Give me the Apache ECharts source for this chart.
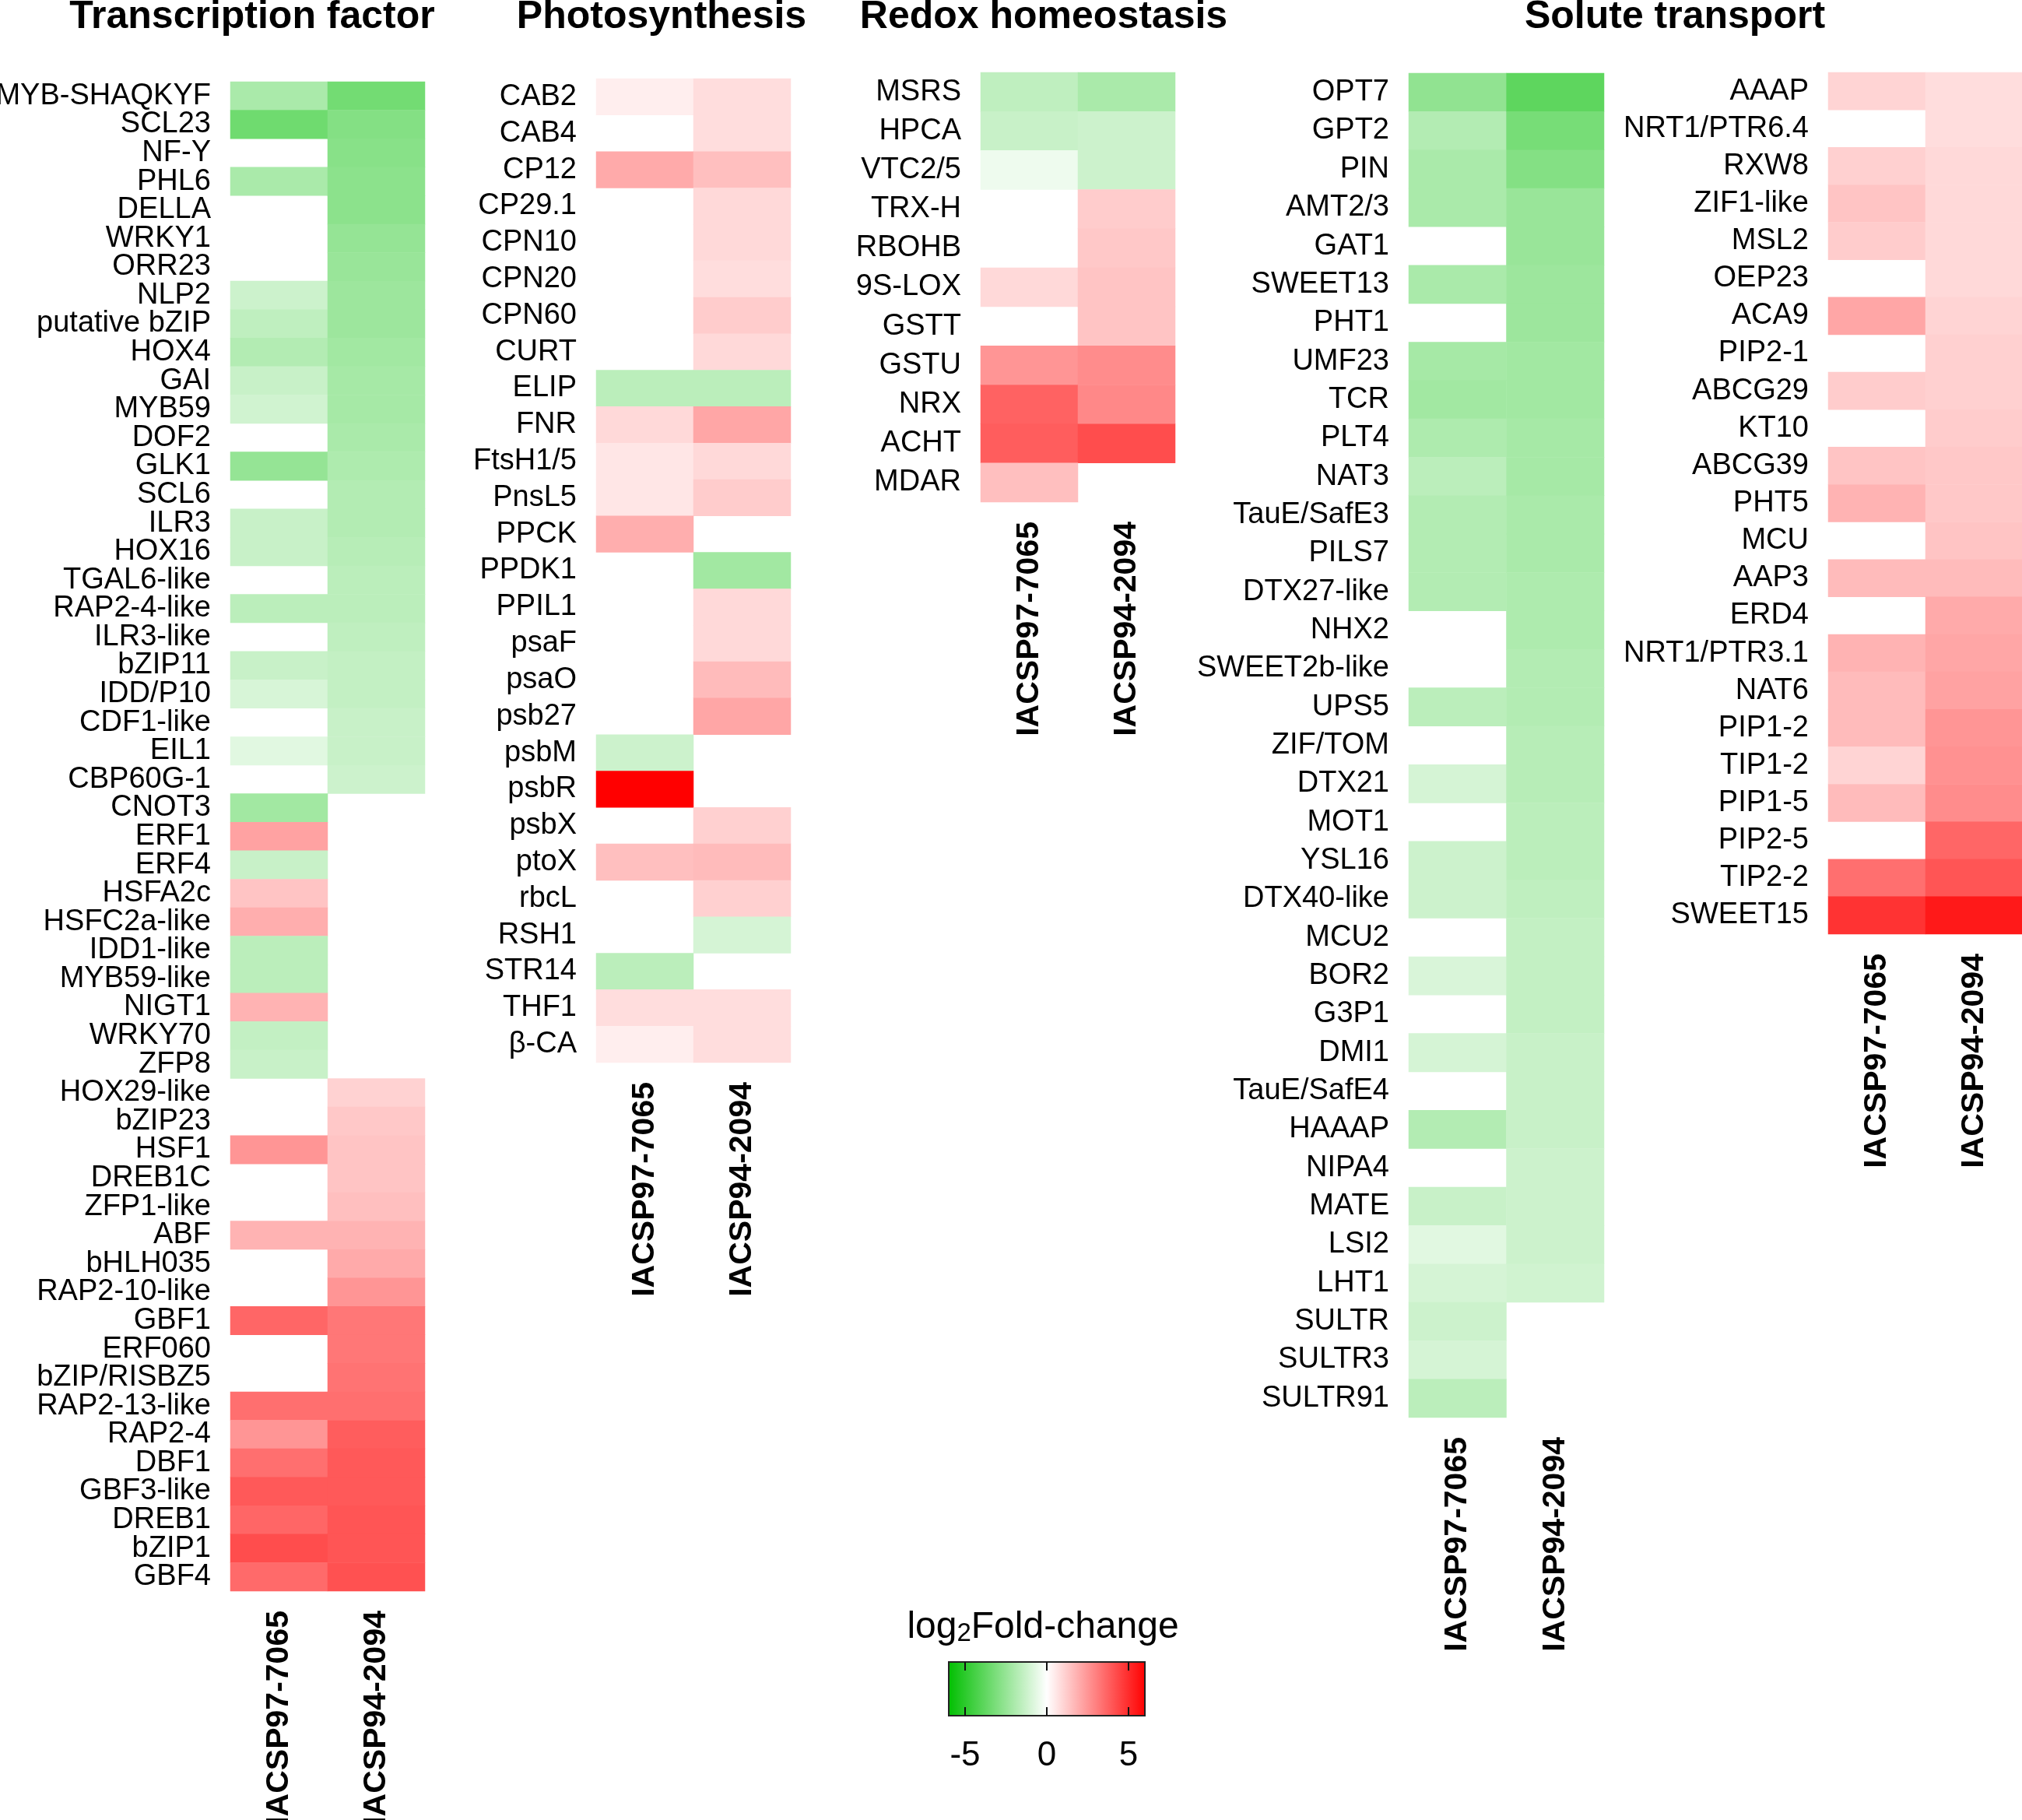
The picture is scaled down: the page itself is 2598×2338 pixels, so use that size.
<!DOCTYPE html>
<html><head><meta charset="utf-8">
<script src="https://cdn.jsdelivr.net/npm/echarts@6/dist/echarts.min.js"></script>
<style>html,body{margin:0;padding:0;background:#fff}#c{width:2598px;height:2338px}</style>
</head><body><div id="c"></div>
<script>
// ---------- DATA ----------
const samples = ['IACSP97-7065', 'IACSP94-2094'];

const tfGenes = ['MYB-SHAQKYF','SCL23','NF-Y','PHL6','DELLA','WRKY1','ORR23','NLP2','putative bZIP','HOX4','GAI','MYB59','DOF2','GLK1','SCL6','ILR3','HOX16','TGAL6-like','RAP2-4-like','ILR3-like','bZIP11','IDD/P10','CDF1-like','EIL1','CBP60G-1','CNOT3','ERF1','ERF4','HSFA2c','HSFC2a-like','IDD1-like','MYB59-like','NIGT1','WRKY70','ZFP8','HOX29-like','bZIP23','HSF1','DREB1C','ZFP1-like','ABF','bHLH035','RAP2-10-like','GBF1','ERF060','bZIP/RISBZ5','RAP2-13-like','RAP2-4','DBF1','GBF3-like','DREB1','bZIP1','GBF4'];
const tfA = [-2.0,-3.4,null,-2.0,null,null,null,-1.2,-1.5,-1.8,-1.3,-1.1,null,-2.5,null,-1.3,-1.3,null,-1.6,null,-1.3,-0.95,null,-0.7,null,-2.2,2.2,-1.3,1.4,1.9,-1.6,-1.6,1.8,-1.4,-1.3,null,null,2.5,null,null,1.8,null,null,3.6,null,null,3.4,2.5,3.4,3.9,3.6,4.2,3.5];
const tfB = [-3.3,-2.9,-2.8,-2.7,-2.7,-2.5,-2.4,-2.3,-2.3,-2.2,-2.1,-2.1,-2.0,-1.9,-1.8,-1.8,-1.7,-1.6,-1.6,-1.5,-1.4,-1.4,-1.3,-1.3,-1.2,null,null,null,null,null,null,null,null,null,null,1.05,1.3,1.4,1.4,1.5,1.8,2.0,2.5,3.2,3.2,3.3,3.4,3.8,3.9,3.9,4.0,4.0,4.1];

const psGenes = ['CAB2','CAB4','CP12','CP29.1','CPN10','CPN20','CPN60','CURT','ELIP','FNR','FtsH1/5','PnsL5','PPCK','PPDK1','PPIL1','psaF','psaO','psb27','psbM','psbR','psbX','ptoX','rbcL','RSH1','STR14','THF1','β-CA'];
const psA = [0.4,null,2.0,null,null,null,null,null,-1.6,0.9,0.6,0.6,1.9,null,null,null,null,null,-1.2,6.0,null,1.5,null,null,-1.6,0.8,0.4];
const psB = [0.8,0.8,1.5,0.9,0.9,0.8,1.2,0.9,-1.6,2.1,0.9,1.2,null,-2.2,0.9,0.9,1.6,2.1,null,null,1.1,1.6,1.1,-1.0,null,0.8,0.8];

const rdGenes = ['MSRS','HPCA','VTC2/5','TRX-H','RBOHB','9S-LOX','GSTT','GSTU','NRX','ACHT','MDAR'];
const rdA = [-1.5,-1.3,-0.4,null,null,0.9,null,2.5,3.7,3.8,1.5];
const rdB = [-2.0,-1.2,-1.2,1.2,1.3,1.4,1.4,2.7,2.8,4.2,null];

const st1Genes = ['OPT7','GPT2','PIN','AMT2/3','GAT1','SWEET13','PHT1','UMF23','TCR','PLT4','NAT3','TauE/SafE3','PILS7','DTX27-like','NHX2','SWEET2b-like','UPS5','ZIF/TOM','DTX21','MOT1','YSL16','DTX40-like','MCU2','BOR2','G3P1','DMI1','TauE/SafE4','HAAAP','NIPA4','MATE','LSI2','LHT1','SULTR','SULTR3','SULTR91'];
const st1A = [-2.6,-1.8,-2.0,-2.0,null,-2.0,null,-2.1,-2.2,-1.9,-1.6,-1.8,-1.8,-1.8,null,null,-1.6,null,-1.0,null,-1.2,-1.2,null,-0.9,null,-1.0,null,-1.8,null,-1.3,-0.7,-1.0,-1.2,-1.0,-1.6];
const st1B = [-3.8,-3.2,-2.9,-2.4,-2.4,-2.3,-2.3,-2.2,-2.2,-2.1,-2.1,-2.0,-2.0,-1.9,-1.9,-1.8,-1.8,-1.7,-1.7,-1.6,-1.6,-1.5,-1.4,-1.4,-1.4,-1.3,-1.3,-1.3,-1.2,-1.2,-1.2,-1.1,null,null,null];

const st2Genes = ['AAAP','NRT1/PTR6.4','RXW8','ZIF1-like','MSL2','OEP23','ACA9','PIP2-1','ABCG29','KT10','ABCG39','PHT5','MCU','AAP3','ERD4','NRT1/PTR3.1','NAT6','PIP1-2','TIP1-2','PIP1-5','PIP2-5','TIP2-2','SWEET15'];
const st2A = [1.0,null,1.1,1.4,1.2,null,2.1,null,1.2,null,1.4,1.8,null,1.6,null,1.8,1.6,1.6,1.0,1.6,null,3.4,4.8];
const st2B = [0.8,0.8,0.9,0.9,0.9,0.9,1.0,1.1,1.1,1.2,1.3,1.3,1.4,1.6,2.0,2.1,2.2,2.5,2.6,2.7,3.6,4.0,5.4];

const legendTicks = [-5, 0, 5];

// ---------- LAYOUT ----------
const panels = [
  {genes: tfGenes, a: tfA, b: tfB, left: 296, top: 105, width: 250, height: 1939},
  {genes: psGenes, a: psA, b: psB, left: 766, top: 101, width: 250, height: 1264},
  {genes: rdGenes, a: rdA, b: rdB, left: 1260, top: 93, width: 250, height: 552},
  {genes: st1Genes, a: st1A, b: st1B, left: 1810, top: 94, width: 251, height: 1727},
  {genes: st2Genes, a: st2A, b: st2B, left: 2349, top: 93, width: 250, height: 1107}
];
const titles = [
  {text: 'Transcription factor', x: 324},
  {text: 'Photosynthesis', x: 850},
  {text: 'Redox homeostasis', x: 1341},
  {text: 'Solute transport', x: 2152}
];
const FONT = 'Liberation Sans, Arial, sans-serif';

const grid = [], xAxis = [], yAxis = [], series = [];
panels.forEach((p, i) => {
  grid.push({left: p.left, top: p.top, width: p.width, height: p.height, containLabel: false, outerBoundsMode: 'none'});
  xAxis.push({
    type: 'category', gridIndex: i, data: samples, position: 'bottom',
    axisLine: {show: false}, axisTick: {show: false}, splitLine: {show: false},
    axisLabel: {interval: 0, rotate: 90, margin: 25, fontSize: 41, fontWeight: 'bold', color: '#000', fontFamily: FONT}
  });
  yAxis.push({
    type: 'category', gridIndex: i, data: p.genes, inverse: true,
    axisLine: {show: false}, axisTick: {show: false}, splitLine: {show: false},
    axisLabel: {interval: 0, margin: 25, fontSize: 38, color: '#000', fontFamily: FONT}
  });
  const data = [];
  p.genes.forEach((g, r) => {
    if (p.a[r] !== null) data.push([0, r, p.a[r]]);
    if (p.b[r] !== null) data.push([1, r, p.b[r]]);
  });
  series.push({
    type: 'heatmap', xAxisIndex: i, yAxisIndex: i, data: data,
    itemStyle: {borderWidth: 0}, emphasis: {disabled: true}, progressive: 0, animation: false
  });
});

// legend colour bar grid
const lg = panels.length;
const gradColors = [{offset: 0, color: '#00BF00'}, {offset: 0.5, color: '#FFFFFF'}, {offset: 1, color: '#FF0000'}];
grid.push({
  left: 1219, top: 2135, width: 252, height: 69, show: true, outerBoundsMode: 'none',
  backgroundColor: {type: 'linear', x: 0, y: 0, x2: 1, y2: 0, colorStops: gradColors},
  borderColor: '#222', borderWidth: 2
});
xAxis.push({
  type: 'value', gridIndex: lg, min: -6, max: 6, position: 'bottom',
  axisLine: {show: false}, splitLine: {show: false},
  axisTick: {show: true, inside: true, length: 11, customValues: legendTicks, lineStyle: {color: '#111', width: 2}},
  axisLabel: {customValues: legendTicks, fontSize: 44, color: '#000', margin: 30, fontFamily: FONT}
});
xAxis.push({
  type: 'value', gridIndex: lg, min: -6, max: 6, position: 'top',
  axisLine: {show: false}, splitLine: {show: false},
  axisTick: {show: true, inside: true, length: 11, customValues: legendTicks, lineStyle: {color: '#111', width: 2}},
  axisLabel: {show: false}
});
yAxis.push({type: 'value', gridIndex: lg, show: false, min: 0, max: 1});

const titleOpts = titles.map(t => ({
  text: t.text, left: t.x, top: -3, padding: 0, textAlign: 'center', textVerticalAlign: 'top',
  textStyle: {fontSize: 50, fontWeight: 'bold', color: '#000', fontFamily: FONT}
}));
titleOpts.push({
  text: 'log{s|2}Fold-change', left: 1340, top: 2067, padding: 0, textAlign: 'center', textVerticalAlign: 'top',
  textStyle: {fontSize: 48, fontWeight: 'normal', color: '#000', fontFamily: FONT, lineHeight: 48,
    rich: {s: {fontSize: 33, verticalAlign: 'bottom', lineHeight: 10, fontFamily: FONT, color: '#000'}}}
});

const chart = echarts.init(document.getElementById('c'), null, {renderer: 'canvas'});
chart.setOption({
  animation: false,
  backgroundColor: '#fff',
  title: titleOpts,
  grid: grid, xAxis: xAxis, yAxis: yAxis, series: series,
  visualMap: {
    type: 'continuous', show: false, min: -6, max: 6, dimension: 2,
    seriesIndex: panels.map((p, i) => i),
    inRange: {color: ['#00BF00', '#FFFFFF', '#FF0000']}
  }
});
</script></body></html>
